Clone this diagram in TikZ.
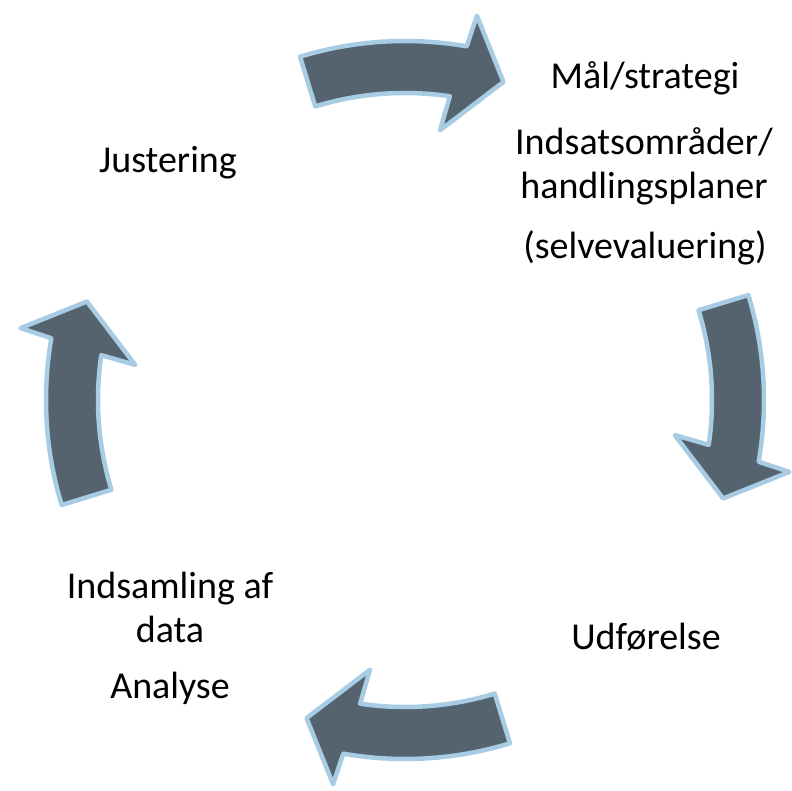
\documentclass[tikz,border=0pt]{standalone}
\usepackage{fontspec}
\setmainfont{Carlito}

\definecolor{arrowfill}{RGB}{84,99,110}
\definecolor{arrowline}{RGB}{168,204,228}

\tikzset{
    arrowshape/.style={fill=arrowfill, draw=arrowline, line width=4.5pt, line join=round},
    cycletext/.style={font=\fontsize{38}{44}\selectfont, align=center, anchor=base, inner sep=0pt}
}

% one curved block arrow of the cycle, turned by #1 degrees
\newcommand{\blockarrow}[1]{%
    \draw[arrowshape, rotate=#1] (107:359pt) arc[start angle=107, end angle=80.1, radius=359pt]
        -- (79.4:391pt) -- (72.8:333pt) -- (82.6:272pt) -- (81.6:307pt)
        arc[start angle=81.6, end angle=107, radius=307pt] -- cycle;}

\begin{document}
\begin{tikzpicture}[x=1pt, y=1pt]
    \useasboundingbox (-405,-390) rectangle (387,400);

    % Arrows
    \blockarrow{0}
    \blockarrow{-90}
    \blockarrow{-180}
    \blockarrow{90}

    % Texts
    \node[cycletext] (maal) at (240,311) {Mål/strategi};
    \node[cycletext] (indsats) at (239,201) {Indsatsområder/\\handlingsplaner};
    \node[cycletext] (selv) at (240,142) {(selvevaluering)};
    \node[cycletext] (udfoer) at (241,-249) {Udførelse};
    \node[cycletext] (indsamling) at (-235,-242) {Indsamling af\\data};
    \node[cycletext] (analyse) at (-235,-298) {Analyse};
    \node[cycletext] (just) at (-237,227) {Justering};
\end{tikzpicture}
\end{document}
